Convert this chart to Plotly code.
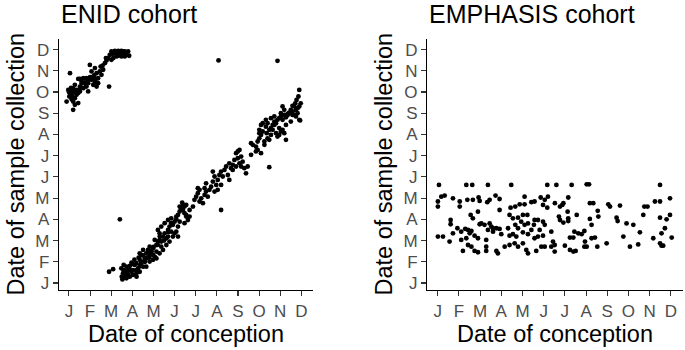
import plotly.graph_objects as go

months = ["J", "F", "M", "A", "M", "J", "J", "A", "S", "O", "N", "D"]
month_pos = list(range(12))

# ENID cohort: (conception month, collection month) as fractional months, Jan = 0
enid_upper_x = [2.01, 2.17, 2.33, 2.48, 2.64, 2.80, 2.09, 2.25, 2.41, 2.56, 2.72, 2.85,
                1.93, 1.86, 2.25, 2.48, 2.64, 2.01, 1.78, 1.70, 1.59, 1.62, 1.46, 1.54,
                1.31, 1.23, 1.15, 1.07, 0.99, 1.38, 1.27, 1.15, 0.99, 0.83, 0.68, 0.52,
                0.44, 0.60, 0.75, 0.91, 1.07, 1.23, 1.15, 0.83, 0.68, 0.52, 0.36, 0.28,
                0.20, 0.13, 0.05, -0.03, 0.02, 0.13, 0.20, 0.28, 0.36, 0.44, 0.52, 0.05,
                1.90, 0.20, 0.28, -0.11, 0.44, 0.91, 1.31, 1.38,
                0.10, 0.30, 0.60, 0.90, 1.20, 1.50, 1.75, 2.10, 2.30, 2.60, 0.00, 0.15,
                0.50, 0.80, 1.00]
enid_upper_y = [10.91, 10.94, 10.94, 10.94, 10.91, 10.91, 10.80, 10.80, 10.80, 10.80, 10.75, 10.71,
                10.75, 10.60, 10.68, 10.68, 10.68, 10.52, 10.49, 10.36, 10.24, 10.05, 9.97, 9.81,
                9.89, 10.13, 9.73, 9.97, 10.28, 9.65, 9.61, 9.61, 9.65, 9.65, 9.65, 9.62,
                9.62, 9.50, 9.45, 9.42, 9.58, 9.45, 9.34, 9.26, 9.18, 9.26, 9.10, 9.34,
                9.18, 9.03, 8.95, 9.10, 8.79, 8.66, 8.55, 8.71, 8.87, 8.95, 9.03, 9.89,
                9.26, 8.16, 8.40, 8.55, 8.48, 9.03, 9.26, 9.42,
                9.20, 9.00, 9.40, 9.55, 9.80, 10.20, 10.60, 10.60, 10.70, 10.90, 9.00, 8.85,
                9.10, 9.35, 9.70]

enid_lower_x = [2.41, 1.90, 2.09, 2.48, 2.56, 2.64, 2.72, 2.53, 2.59, 2.72, 2.80, 2.88,
                2.96, 3.03, 3.11, 3.19, 3.27, 3.35, 3.43, 3.51, 3.59, 3.66, 3.74, 3.82,
                3.90, 3.98, 4.06, 4.14, 4.21, 4.29, 4.37, 4.45, 4.53, 4.61, 4.69, 4.76,
                4.84, 4.92, 5.00, 5.08, 5.16, 5.24, 5.31, 5.39, 5.47, 5.55, 5.63, 5.24,
                5.16, 5.08, 4.92, 4.76, 4.61, 4.45, 4.29, 4.14, 3.98, 3.82, 3.66, 3.51,
                3.35, 3.19, 3.03, 2.88, 3.82, 3.98, 3.66, 3.51, 3.35, 4.21, 4.29, 4.37,
                4.53, 4.69, 4.84, 5.00, 5.16, 4.14, 3.19, 2.80, 2.96, 3.35, 3.82, 4.06,
                4.37, 4.69, 4.84, 5.08, 5.39, 5.47, 5.24, 5.36, 5.55,
                3.10, 3.30, 3.50, 3.70, 3.90, 4.00, 4.20, 4.30, 4.50, 4.70, 2.70, 2.90,
                3.00, 2.60, 3.20, 2.50, 2.75, 3.40, 3.60, 3.80,
                7.20, 9.48, 5.39, 5.55, 5.71, 5.47, 5.94, 6.02, 6.10, 6.18, 6.26, 6.34,
                6.42, 6.49, 6.57, 6.10, 6.42, 6.49, 6.65, 6.73, 6.81, 6.89, 6.97, 7.04,
                6.81, 7.12, 7.20, 7.28, 7.36, 7.44, 7.52, 7.59, 7.67, 7.75, 7.83, 7.91,
                7.99, 8.07, 8.15, 8.22, 7.99, 8.07, 8.15, 8.62, 8.70, 8.85, 8.93, 9.01,
                9.09, 8.93, 8.62, 9.09, 9.17, 9.01, 9.09, 9.17, 9.32, 9.40, 9.48, 9.56,
                9.64, 9.72, 9.80, 9.87, 9.95, 10.03, 10.11, 10.19, 10.27, 10.35, 10.43, 10.58,
                10.66, 10.82, 10.90, 10.74, 9.80, 9.87, 9.95, 10.03, 10.11, 10.19, 10.27, 9.72,
                9.40, 9.25, 9.36, 9.56, 9.48, 9.64, 8.30, 8.38, 8.46, 6.18, 5.71, 5.87,
                6.89, 7.04, 7.20, 7.59, 7.75, 7.91, 9.25, 8.85, 9.01, 9.95, 10.27, 10.50,
                9.56, 9.72, 9.32,
                10.90, 10.86, 10.97, 10.90, 10.82, 10.74, 10.66, 10.58, 10.50, 10.42, 10.58, 10.35,
                10.27, 10.19, 10.11, 10.03, 10.94, 9.87, 7.08, 10.77, 10.71]
enid_lower_y = [3.00, 0.53, 0.65, 0.69, 0.46, 0.27, 0.22, 0.17, 0.85, 0.77, 0.61, 0.80,
                0.53, 0.61, 0.85, 0.93, 0.69, 1.09, 1.32, 1.01, 1.16, 1.40, 1.56, 1.71,
                1.48, 1.64, 1.24, 1.79, 1.95, 2.03, 1.71, 2.19, 2.34, 2.11, 2.50, 2.66,
                2.42, 2.74, 2.89, 3.00, 3.21, 3.37, 3.52, 3.68, 3.29, 3.13, 2.97, 2.89,
                2.66, 2.42, 2.19, 1.95, 1.79, 1.56, 1.40, 1.16, 1.09, 1.01, 0.77, 0.77,
                0.53, 0.46, 0.38, 0.30, 1.32, 1.32, 1.16, 1.56, 1.40, 2.50, 2.34, 2.66,
                2.82, 2.97, 3.05, 2.34, 2.19, 1.48, 0.61, 0.38, 0.96, 0.80, 1.48, 2.03,
                1.95, 2.19, 2.82, 3.13, 3.44, 2.82, 3.60, 3.79, 3.68,
                1.10, 1.20, 1.30, 1.20, 1.50, 1.70, 1.80, 2.20, 2.00, 2.40, 0.50, 0.60,
                0.90, 0.60, 0.30, 0.30, 0.45, 0.90, 1.00, 1.20,
                3.44, 5.46, 3.44, 3.21, 3.13, 3.60, 3.92, 4.07, 4.23, 3.84, 3.99, 3.76,
                4.15, 4.31, 4.07, 4.47, 4.47, 4.70, 4.39, 4.54, 4.78, 5.02, 4.62, 4.86,
                5.25, 5.09, 5.25, 5.02, 5.33, 5.49, 5.09, 5.64, 5.41, 5.57, 5.80, 6.12,
                5.88, 5.64, 5.96, 5.72, 6.20, 6.27, 5.49, 6.59, 6.51, 6.43, 6.67, 6.82,
                6.12, 6.27, 6.04, 6.98, 7.14, 7.22, 7.45, 7.53, 7.37, 7.53, 7.22, 7.30,
                7.45, 7.61, 7.53, 7.69, 7.77, 7.85, 7.69, 7.92, 7.81, 7.97, 8.03, 8.08,
                7.92, 8.00, 7.69, 7.85, 7.06, 6.90, 6.98, 7.14, 7.22, 7.06, 6.75, 7.85,
                6.82, 6.67, 7.06, 6.98, 6.75, 7.22, 5.41, 5.17, 5.49, 4.39, 3.44, 3.60,
                4.31, 4.39, 4.62, 4.86, 5.33, 5.49, 6.51, 6.20, 7.06, 7.30, 7.45, 7.61,
                7.77, 7.45, 7.69,
                9.10, 8.79, 8.47, 8.32, 8.24, 8.16, 8.32, 8.35, 8.16, 8.00, 7.92, 7.92,
                7.85, 8.16, 8.32, 8.00, 7.66, 10.47, 10.49, 8.63, 8.47]

# EMPHASIS cohort
emph_x = [0.06, 1.35, 1.63, 2.37, 3.47, 5.17, 5.60, 0.17, 0.33, 0.72, 0.01, 0.01,
          1.04, 1.04, 1.40, 1.66, 1.93, 1.98, 2.34, 2.45, 2.73, 2.92, 4.10, 4.86,
          5.20, 5.05, 4.97, 5.17, 4.57, 4.42, 4.10, 3.87, 3.66, 3.44, 2.92, 1.90,
          1.555, 1.66, 0.61, 0.61, 0.93, 0.72, 1.11, 1.30, 1.43, 1.51, 1.59, 2.06,
          2.21, 2.45, 2.53, 2.61, 2.77, 2.92, 3.00, 3.39, 3.55, 3.79, 4.02, 4.23,
          3.94, 4.10, 4.26, 4.57, 4.73, 4.97, 5.05, 3.79, 3.55, 3.39, 3.71, 4.02,
          4.26, 4.73, 4.57, 4.97, 5.36, 5.44, 0.01, 0.25, 0.56, 1.11, 1.90, 2.29,
          1.43, 1.59, 1.19, 1.74, 1.90, 2.29, 2.77, 2.84, 3.16, 3.39, 3.63, 3.79,
          4.02, 4.18, 4.26, 4.65, 4.89, 5.05, 5.36, 5.52, 5.52, 1.98, 2.37, 2.61,
          3.32, 3.66, 4.42, 4.54, 4.81, 2.29, 1.35, 1.74,
          6.32, 7.03, 7.14, 10.49, 6.16, 10.96, 5.53, 5.77, 5.88, 5.93, 7.18, 7.34,
          8.05, 8.13, 8.60, 10.25, 10.49, 9.75, 9.90, 6.13, 6.56, 7.55, 7.58, 7.18,
          7.26, 5.72, 5.77, 6.16, 6.16, 5.93, 8.44, 8.49, 8.91, 9.23, 9.70, 10.49,
          10.80, 10.96, 10.72, 10.56, 10.17, 11.04, 9.54, 8.76, 6.45, 6.63, 6.79, 6.92,
          6.24, 6.40, 7.26, 7.42, 6.95, 6.92, 7.03, 7.53, 7.97, 9.07, 9.46, 10.49,
          10.56, 10.64, 6.00, 6.24, 6.40, 6.51]
emph_y = [4.62, 4.62, 4.62, 4.62, 4.62, 4.62, 4.62, 4.07, 4.12, 3.99, 3.84, 3.60,
          3.84, 3.60, 3.92, 3.92, 4.03, 3.87, 3.81, 3.92, 4.12, 3.96, 4.07, 4.03,
          4.07, 3.92, 3.68, 3.55, 3.84, 3.81, 3.71, 3.71, 3.60, 3.55, 3.44, 3.36,
          3.21, 3.05, 2.97, 2.77, 2.58, 2.34, 2.42, 2.55, 2.50, 2.34, 2.45, 2.81,
          2.74, 2.81, 2.66, 2.58, 2.58, 2.55, 2.30, 3.21, 3.05, 3.08, 3.21, 3.21,
          2.89, 2.74, 2.81, 2.97, 2.97, 2.89, 2.74, 2.58, 2.30, 2.23, 2.19, 2.39,
          2.30, 2.19, 2.11, 2.23, 2.42, 1.95, 2.19, 2.19, 1.95, 2.03, 2.11, 2.03,
          1.79, 1.71, 1.51, 1.51, 1.45, 1.51, 1.51, 1.40, 1.71, 1.79, 1.87, 1.71,
          1.87, 1.56, 1.40, 1.51, 1.71, 1.71, 1.71, 1.79, 1.48, 2.77, 2.50, 2.42,
          2.58, 2.74, 2.50, 2.74, 2.50, 1.71, 2.11, 2.23,
          4.62, 4.65, 4.65, 4.62, 4.03, 3.99, 3.76, 3.60, 3.68, 3.76, 3.76, 3.76,
          3.71, 3.60, 3.65, 3.84, 3.84, 3.60, 3.60, 3.36, 3.21, 3.40, 3.13, 3.02,
          2.74, 3.13, 2.97, 3.05, 2.92, 2.85, 3.08, 2.92, 2.81, 2.74, 3.21, 3.08,
          3.00, 3.21, 2.58, 2.34, 2.11, 2.14, 2.39, 2.19, 2.42, 2.34, 2.30, 2.45,
          2.14, 2.14, 2.11, 2.14, 1.95, 1.71, 1.71, 1.71, 1.87, 1.71, 1.82, 1.87,
          1.76, 1.76, 1.76, 1.56, 1.48, 1.51]

enid_x = enid_upper_x + enid_lower_x
enid_y = enid_upper_y + enid_lower_y

FONT = "Liberation Sans, Arial, sans-serif"
W, H = 685, 350

fig = go.Figure()
marker = dict(color="black", size=4.8, line=dict(width=0))
fig.add_trace(go.Scatter(x=enid_x, y=enid_y, mode="markers", marker=marker,
                         xaxis="x", yaxis="y", showlegend=False, hoverinfo="skip"))
fig.add_trace(go.Scatter(x=emph_x, y=emph_y, mode="markers", marker=marker,
                         xaxis="x2", yaxis="y2", showlegend=False, hoverinfo="skip"))

def ax(domain, rng, anchor):
    return dict(domain=domain, range=rng, anchor=anchor, automargin=False,
                showline=True, linecolor="black", linewidth=1.3,
                ticks="outside", ticklen=5, tickwidth=1.1, tickcolor="#333333",
                tickvals=month_pos, ticktext=months,
                tickfont=dict(family=FONT, size=17, color="#4D4D4D"),
                showgrid=False, zeroline=False, fixedrange=True)

ydom = [1 - 290 / H, 1 - 39 / H]
left_dom = [59 / W, 313 / W]
right_dom = [427.3 / W, 682.5 / W]

fig.update_layout(
    width=W, height=H,
    margin=dict(l=0, r=0, t=0, b=0, autoexpand=False),
    paper_bgcolor="white", plot_bgcolor="white",
    xaxis=ax(left_dom, [-0.47, 11.55], "y"),
    yaxis=ax(ydom, [-0.33, 11.5], "x"),
    xaxis2=ax(right_dom, [-0.49, 11.55], "y2"),
    yaxis2=ax(ydom, [-0.33, 11.5], "x2"),
)

annotations = []
for dom, title, ytx in [(left_dom, "ENID cohort", 15 / W), (right_dom, "EMPHASIS cohort", 383 / W)]:
    annotations.append(dict(text=title, x=dom[0], y=1 - 14.5 / H, xref="paper", yref="paper",
                            xanchor="left", yanchor="middle", showarrow=False,
                            font=dict(family=FONT, size=25, color="black")))
    annotations.append(dict(text="Date of conception", x=(dom[0] + dom[1]) / 2, y=1 - 334 / H,
                            xref="paper", yref="paper", xanchor="center", yanchor="middle",
                            showarrow=False, font=dict(family=FONT, size=23.5, color="black")))
    annotations.append(dict(text="Date of sample collection", x=ytx, y=1 - 164.5 / H,
                            xref="paper", yref="paper", xanchor="center", yanchor="middle",
                            textangle=-90, showarrow=False,
                            font=dict(family=FONT, size=23.5, color="black")))
fig.update_layout(annotations=annotations)

fig.write_html("out.html", config={"displayModeBar": False, "staticPlot": True},
               post_script="document.body.style.margin='0';document.body.style.overflow='hidden';")
